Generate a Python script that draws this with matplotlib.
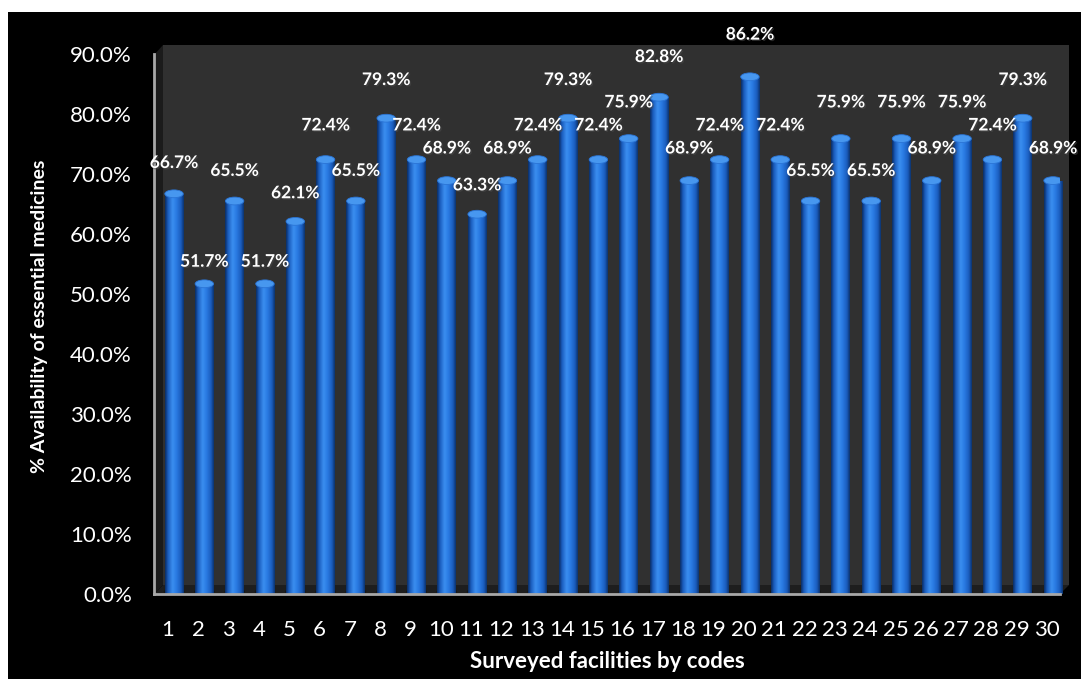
import numpy as np
import matplotlib.pyplot as plt
from matplotlib.colors import LinearSegmentedColormap
from matplotlib.patches import Rectangle, Polygon, Ellipse
from matplotlib.ticker import FuncFormatter
import matplotlib.patheffects as pe

# facility codes and % availability of essential medicines
codes = list(range(1, 31))
availability = [66.7, 51.7, 65.5, 51.7, 62.1, 72.4, 65.5, 79.3, 72.4, 68.9,
                63.3, 68.9, 72.4, 79.3, 72.4, 75.9, 82.8, 68.9, 72.4, 86.2,
                72.4, 65.5, 75.9, 65.5, 75.9, 68.9, 75.9, 72.4, 79.3, 68.9]
y_ticks = [0, 10, 20, 30, 40, 50, 60, 70, 80, 90]

W, H = 1081, 679
plt.rcParams['font.family'] = ['Lato', 'DejaVu Sans']

fig = plt.figure(figsize=(W / 100, H / 100), dpi=100, facecolor='white')


def px(x, y):
    # pixel position (top-left origin) -> figure fraction
    return (x / W, 1 - y / H)


def add_fig_patch(patch):
    patch.set_transform(fig.transFigure)
    patch.set_zorder(-5)
    fig.patches.append(patch)


# black chart area
add_fig_patch(Rectangle(px(8, 679), (W - 8) / W, (679 - 12) / H,
                        facecolor='black', edgecolor='none'))
# back wall, side wall and floor of the 3-D box
add_fig_patch(Polygon([px(163, 585), px(1069, 585), px(1069, 45), px(163, 45)],
                      facecolor='#303030', edgecolor='none'))
add_fig_patch(Polygon([px(154, 594), px(163, 585), px(163, 45), px(154, 55)],
                      facecolor='#1b1b1b', edgecolor='none'))
add_fig_patch(Polygon([px(154, 594), px(1060, 594), px(1069, 585), px(163, 585)],
                      facecolor='#1e1e1e', edgecolor='none'))

ax = fig.add_axes([154 / W, (H - 594) / H, (1060 - 154) / W, 540 / H])
ax.set_facecolor('none')
ax.set_xlim(0.54, 30.43)
ax.set_ylim(0, 90)

depth = 0.2
width = 0.62
xs = np.array(codes) + depth
bars = ax.bar(xs, availability, width=width, color='none', edgecolor='none', zorder=2)

cyl = LinearSegmentedColormap.from_list('cyl', [
    (0.0, '#0a2c62'), (0.15, '#1a5cbd'), (0.4, '#3b8ff0'),
    (0.6, '#2a7be3'), (0.85, '#1a5cbd'), (1.0, '#0b326c')])
grad = np.linspace(0, 1, 64).reshape(1, -1)

for bar, v in zip(bars, availability):
    x0 = bar.get_x()
    im = ax.imshow(grad, cmap=cyl, aspect='auto', extent=(x0, x0 + width, 0, v),
                   interpolation='bicubic', zorder=2)
    im.set_clip_path(bar)
    ax.add_patch(Ellipse((x0 + width / 2, v), width * 0.98, 1.3,
                         facecolor='#4797ef', edgecolor='#2a74d6', lw=0.6, zorder=3))
    ax.add_patch(Ellipse((x0 + width / 2, 0.4), width * 1.1, 1.2,
                         facecolor='#101010', edgecolor='none', alpha=0.6, zorder=1.5))

# value labels, placed higher as the bar gets taller
for x, v in zip(xs, availability):
    ax.text(x, v * 1.097 - 1.33, f'{v:.1f}%', ha='center', va='center',
            color='white', fontsize=12.5, fontweight='bold', zorder=5,
            path_effects=[pe.withSimplePatchShadow(offset=(1, -1), alpha=0.5)])

ax.set_xticks(codes)
ax.set_xticklabels([str(c) for c in codes])
ax.set_yticks(y_ticks)
ax.yaxis.set_major_formatter(FuncFormatter(lambda v, _: f'{v:.1f}%'))
ax.tick_params(axis='both', length=0, colors='white', labelsize=16)
ax.tick_params(axis='y', pad=16)
ax.tick_params(axis='x', pad=19)

for side in ('top', 'right'):
    ax.spines[side].set_visible(False)
for side in ('left', 'bottom'):
    ax.spines[side].set_color('#a8a8a8')
    ax.spines[side].set_linewidth(2)

fig.text(*px(40, 316), '% Availability of essential medicines', rotation=90,
         ha='center', va='center', color='white', fontsize=14, fontweight='bold')
fig.text(*px(607, 662), 'Surveyed facilities by codes', ha='center', va='center',
         color='white', fontsize=16, fontweight='bold')

fig.savefig('out.png', dpi=100, facecolor=fig.get_facecolor())
